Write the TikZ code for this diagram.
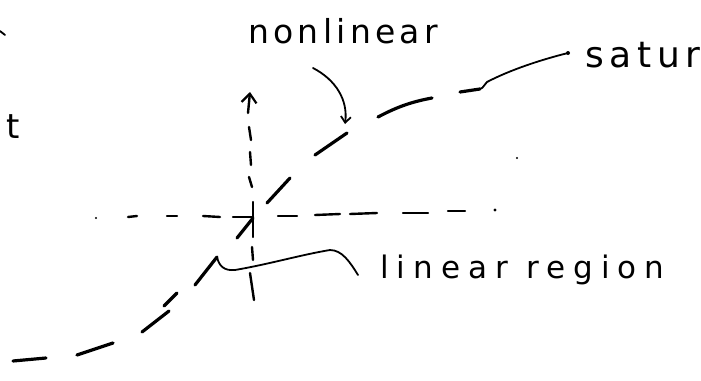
\documentclass[tikz,border=0pt]{standalone}
\usepackage{fontspec}
\setmainfont{DejaVu Sans}
\newfontfamily\handA[LetterSpace=13]{DejaVu Sans}
\newfontfamily\handB[LetterSpace=26]{DejaVu Sans}
\newfontfamily\handC[LetterSpace=16]{DejaVu Sans}
\usetikzlibrary{arrows.meta}
\begin{document}
\begin{tikzpicture}[x=1pt,y=-1pt,
  ink/.style={line width=3.2pt, line cap=round},
  guide/.style={line width=2.4pt, line cap=round},
  leader/.style={line width=1.8pt, line cap=round},
  lbl/.style={inner sep=0pt, anchor=base west}]
\useasboundingbox (0,0) rectangle (701,380);

% labels
\node[lbl, font=\handA\fontsize{33}{36}\selectfont] (nl) at (248,43) {nonlinear};
\node[lbl, font=\handC\fontsize{36}{40}\selectfont] (sat) at (585,67) {satur};
\node[lbl, font=\fontsize{34}{38}\selectfont] (tt) at (6,138) {t};
\node[lbl, font=\handB\fontsize{31}{34}\selectfont] (lin) at (380,278) {linear region};

% stray marks
\draw[leader] (0,31) -- (5,35);
\fill (517,158) circle (1.2pt);

% response curve (hand-drawn dashes)
\draw[ink] (13,361) -- (46,358);
\draw[ink] (77,355) -- (113,343);
\draw[ink] (142,332) -- (169,311);
\draw[ink] (164,306) -- (177,293);
\draw[ink] (195,285) -- (217,257);
\draw[ink] (237,238) -- (253,218);
\draw[ink] (267,203) -- (290,178);
\draw[ink] (315,155) -- (347,133);
\draw[ink] (378,117) .. controls (395,108) and (410,102) .. (432,98);
\coordinate (satend) at (480,89);
\draw[ink] (460,92) -- (satend);

% vertical dashed axis with arrow
\coordinate (vtop) at (250,92);
\coordinate (v1) at (248,113);
\draw[guide, -{Straight Barb[length=9pt,width=15pt,line width=2.2pt]}] (v1) -- (vtop);
\draw[guide] (249,127) -- (251,140);
\draw[guide] (250,152) -- (251,165);
\draw[guide] (249,177) -- (252,187);
\draw[guide] (253,202) -- (253,237);
\draw[guide] (252,247) -- (253,260);
\draw[guide] (250,273) -- (254,300);

% horizontal dashed line
\fill (96,218) circle (1.2pt);
\draw[guide] (128,217) -- (137,216);
\draw[guide] (167,216) -- (177,216);
\draw[guide] (203,216) -- (220,217);
\draw[guide] (233,217) -- (253,217);
\draw[guide] (278,216) -- (297,216);
\draw[guide] (315,215) -- (340,214);
\draw[guide] (350,214) -- (377,213);
\draw[guide] (403,213) -- (428,213);
\draw[guide] (448,211) -- (465,211);
\fill (495,210) circle (1.6pt);

% leaders
\coordinate (nltip) at (345,124);
\draw[leader, -{Straight Barb[length=6pt,width=10pt]}] (313,68) .. controls (336,80) and (348,100) .. (nltip);
\coordinate (satmark) at (568,53);
\draw[leader] (satend) .. controls (484,88) and (484,84) .. (487,82) .. controls (510,70) and (540,60) .. (satmark);
\fill (satmark) circle (2pt);
\coordinate (linstart) at (217,257);
\coordinate (linend) at (358,275);
\draw[leader] (linstart) .. controls (219,266) and (224,271) .. (235,270)
  .. controls (270,264) and (300,255) .. (330,250)
  .. controls (342,250) and (350,262) .. (linend);
\end{tikzpicture}
\end{document}
